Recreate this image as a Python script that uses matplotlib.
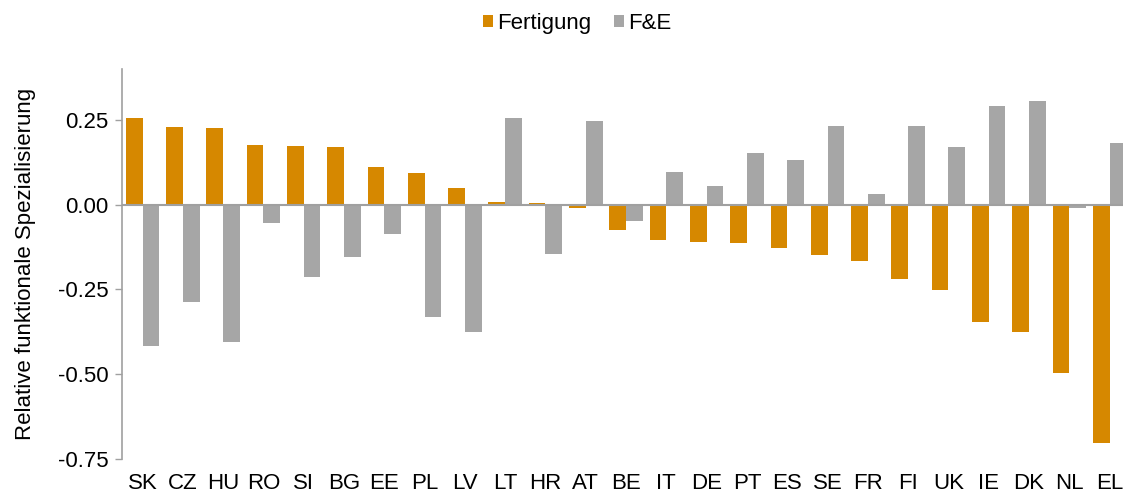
import matplotlib.pyplot as plt
import numpy as np

plt.rcParams['font.family'] = ['Liberation Sans', 'DejaVu Sans']

countries = ['SK', 'CZ', 'HU', 'RO', 'SI', 'BG', 'EE', 'PL', 'LV', 'LT', 'HR', 'AT', 'BE',
             'IT', 'DE', 'PT', 'ES', 'SE', 'FR', 'FI', 'UK', 'IE', 'DK', 'NL', 'EL']
fertigung = [0.256, 0.229, 0.228, 0.176, 0.174, 0.171, 0.112, 0.094, 0.050, 0.009, 0.006, -0.010, -0.074,
             -0.105, -0.109, -0.112, -0.128, -0.148, -0.166, -0.218, -0.251, -0.346, -0.375, -0.498, -0.704]
fue = [-0.418, -0.288, -0.406, -0.053, -0.212, -0.153, -0.085, -0.330, -0.376, 0.256, -0.144, 0.247, -0.048,
       0.097, 0.055, 0.153, 0.131, 0.232, 0.032, 0.233, 0.171, 0.291, 0.306, -0.010, 0.182]

orange = '#D68800'
grey = '#A6A6A6'
fs = 16

fig = plt.figure(figsize=(11.23, 4.95), dpi=100)
ax = fig.add_axes([0.109, 0.073, 0.897, 0.787])

x = np.arange(len(countries))
w = 0.415
ax.bar(x - w / 2, fertigung, w, color=orange, label='Fertigung', zorder=2)
ax.bar(x + w / 2, fue, w, color=grey, label='F&E', zorder=2)
ax.axhline(0, color='#A0A0A0', lw=1.5, zorder=3)

ax.set_xlim(-0.5, len(countries) - 0.5)
ax.set_ylim(-0.75, 0.40)
ax.set_yticks([0.25, 0.0, -0.25, -0.5, -0.75])
ax.set_yticklabels(['0.25', '0.00', '-0.25', '-0.50', '-0.75'])
ax.set_xticks(x)
ax.set_xticklabels(countries)
ax.tick_params(axis='x', length=0, pad=10, labelsize=fs)
ax.tick_params(axis='y', length=5, width=1, color='#A0A0A0', pad=5, labelsize=fs)

for s in ['top', 'right', 'bottom']:
    ax.spines[s].set_visible(False)
ax.spines['left'].set_color('#A0A0A0')
ax.spines['left'].set_linewidth(1.2)

ax.set_ylabel('Relative funktionale Spezialisierung', fontsize=fs, labelpad=16)

fig.legend(loc='upper center', bbox_to_anchor=(0.514, 1.015), ncol=2, frameon=False,
           fontsize=fs, handlelength=0.45, handleheight=0.45, handletextpad=0.2, columnspacing=1.0)

fig.savefig('out.png', dpi=100)
